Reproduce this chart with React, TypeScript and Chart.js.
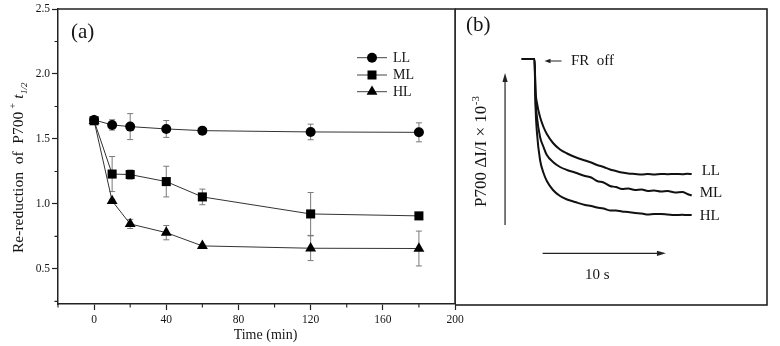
import React, { useEffect, useRef } from "react";
import { Chart, registerables } from "chart.js";
Chart.register(...registerables);

const SERIF = "'Liberation Serif', 'Times New Roman', serif";
const INK = "#151515";

// ---------- Panel (a) data ----------
const times = [0, 10, 20, 40, 60, 120, 180];
const seriesNames = ["LL", "ML", "HL"];
const llValues = [1.646, 1.608, 1.595, 1.577, 1.564, 1.554, 1.551];
const mlValues = [1.64, 1.23, 1.226, 1.172, 1.054, 0.923, 0.908];
const hlValues = [1.64, 1.023, 0.846, 0.779, 0.677, 0.659, 0.657];
const llErrors = [0.02, 0.04, 0.1, 0.065, 0.008, 0.06, 0.073];
const mlErrors = [0.02, 0.135, 0.035, 0.118, 0.06, 0.165, 0.01];
const hlErrors = [0.02, 0.012, 0.035, 0.055, 0.012, 0.095, 0.134];
const xTicks = [0, 40, 80, 120, 160, 200];
const yTicks = [0.5, 1.0, 1.5, 2.0, 2.5];
const xMinorTicks = [-20, 20, 60, 100, 140, 180];
const yMinorTicks = [0.25, 0.75, 1.25, 1.75, 2.25];

// ---------- Panel (b) data (time in s, signal in arbitrary units) ----------
const traceTimes = [-1.04, 0, 0.08, 0.2, 0.45, 0.73, 1.0, 1.5, 2.07, 2.64, 3.28, 4.1, 4.6, 5.07, 5.6, 6.12, 6.6, 7.1, 7.6, 8.15, 8.7, 9.2, 9.7, 10.26, 10.8, 11.4, 12.0, 12.4, 12.75];
const traceLL = [17.1, 17.1, 14.0, 12.7, 11.3, 10.3, 9.6, 8.7, 8.05, 7.65, 7.3, 6.95, 6.75, 6.5, 6.3, 6.05, 5.9, 5.75, 5.65, 5.6, 5.55, 5.6, 5.55, 5.6, 5.58, 5.6, 5.58, 5.62, 5.6];
const traceML = [17.1, 17.1, 13.2, 11.3, 9.3, 8.3, 7.5, 6.8, 6.3, 6.0, 5.75, 5.4, 5.25, 4.9, 4.75, 4.4, 4.3, 4.1, 4.15, 4.0, 4.05, 3.9, 3.95, 3.85, 3.9, 3.75, 3.8, 3.6, 3.45];
const traceHL = [17.1, 17.1, 12.4, 9.7, 7.0, 5.7, 4.9, 4.0, 3.4, 3.05, 2.8, 2.5, 2.4, 2.25, 2.15, 1.95, 1.95, 1.85, 1.8, 1.7, 1.65, 1.55, 1.6, 1.6, 1.55, 1.5, 1.52, 1.5, 1.5];
const scaleBarStart = 0.66;
const scaleBarSeconds = 10;

type Style = "circle" | "rect" | "triangle";

function drawMarker(ctx: CanvasRenderingContext2D, style: Style, x: number, y: number) {
  ctx.beginPath();
  if (style === "circle") {
    ctx.arc(x, y, 5, 0, Math.PI * 2);
  } else if (style === "rect") {
    ctx.rect(x - 4.5, y - 4.5, 9, 9);
  } else {
    const r = 6.3;
    ctx.moveTo(x, y - r);
    ctx.lineTo(x + r * Math.sin((2 * Math.PI) / 3), y - r * Math.cos((2 * Math.PI) / 3));
    ctx.lineTo(x + r * Math.sin((4 * Math.PI) / 3), y - r * Math.cos((4 * Math.PI) / 3));
    ctx.closePath();
  }
  ctx.fillStyle = "#000";
  ctx.fill();
}

function arrow(ctx: CanvasRenderingContext2D, x1: number, y1: number, x2: number, y2: number, head = 7, hw = 2.6) {
  const ang = Math.atan2(y2 - y1, x2 - x1);
  ctx.beginPath();
  ctx.moveTo(x1, y1);
  ctx.lineTo(x2 - Math.cos(ang) * head * 0.8, y2 - Math.sin(ang) * head * 0.8);
  ctx.stroke();
  ctx.beginPath();
  ctx.moveTo(x2, y2);
  ctx.lineTo(x2 - Math.cos(ang) * head - Math.sin(ang) * hw, y2 - Math.sin(ang) * head + Math.cos(ang) * hw);
  ctx.lineTo(x2 - Math.cos(ang) * head + Math.sin(ang) * hw, y2 - Math.sin(ang) * head - Math.cos(ang) * hw);
  ctx.closePath();
  ctx.fill();
}

export default function App() {
  const refA = useRef<HTMLCanvasElement>(null);
  const refB = useRef<HTMLCanvasElement>(null);

  useEffect(() => {
    const series = [
      { values: llValues, errors: llErrors, style: "circle" as Style, radius: 5 },
      { values: mlValues, errors: mlErrors, style: "rect" as Style, radius: 6.4 },
      { values: hlValues, errors: hlErrors, style: "triangle" as Style, radius: 6.3 },
    ];

    const panelAPlugin = {
      id: "panelA",
      beforeDatasetsDraw(chart: any) {
        const ctx = chart.ctx as CanvasRenderingContext2D;
        const ys = chart.scales.y;
        ctx.save();
        ctx.strokeStyle = "#7a7a7a";
        ctx.lineWidth = 1;
        series.forEach((s, di) => {
          const meta = chart.getDatasetMeta(di);
          meta.data.forEach((pt: any, i: number) => {
            const v = s.values[i];
            const e = s.errors[i];
            const yTop = ys.getPixelForValue(v + e);
            const yBot = ys.getPixelForValue(v - e);
            ctx.beginPath();
            ctx.moveTo(pt.x, yTop);
            ctx.lineTo(pt.x, yBot);
            ctx.moveTo(pt.x - 3, yTop);
            ctx.lineTo(pt.x + 3, yTop);
            ctx.moveTo(pt.x - 3, yBot);
            ctx.lineTo(pt.x + 3, yBot);
            ctx.stroke();
          });
        });
        ctx.restore();
      },
      afterDraw(chart: any) {
        const ctx = chart.ctx as CanvasRenderingContext2D;
        const { left, right, top, bottom } = chart.chartArea;
        const xs = chart.scales.x;
        const ys = chart.scales.y;
        ctx.save();
        // top & right frame
        ctx.strokeStyle = "#222";
        ctx.lineWidth = 1.5;
        ctx.beginPath();
        ctx.moveTo(left, top);
        ctx.lineTo(right, top);
        ctx.lineTo(right, bottom);
        ctx.stroke();
        // minor ticks
        ctx.lineWidth = 1.1;
        ctx.beginPath();
        xMinorTicks.forEach((v) => {
          const x = xs.getPixelForValue(v);
          ctx.moveTo(x, bottom);
          ctx.lineTo(x, bottom + 3.5);
        });
        yMinorTicks.forEach((v) => {
          const y = ys.getPixelForValue(v);
          ctx.moveTo(left, y);
          ctx.lineTo(left - 3.5, y);
        });
        ctx.stroke();

        ctx.fillStyle = INK;
        // panel letter
        ctx.font = `21px ${SERIF}`;
        ctx.textBaseline = "middle";
        ctx.textAlign = "left";
        ctx.fillText("(a)", left + 13, top + 23);

        // legend
        const rows = [top + 48.7, top + 66, top + 82.7];
        const styles: Style[] = ["circle", "rect", "triangle"];
        ctx.strokeStyle = "#444";
        ctx.lineWidth = 1;
        rows.forEach((y, i) => {
          ctx.beginPath();
          ctx.moveTo(right - 98, y);
          ctx.lineTo(right - 68, y);
          ctx.stroke();
          drawMarker(ctx, styles[i], right - 83, y);
          ctx.fillStyle = INK;
          ctx.font = `14px ${SERIF}`;
          ctx.textAlign = "left";
          ctx.textBaseline = "middle";
          ctx.fillText(seriesNames[i], right - 62, y + 0.5);
        });

        // x title
        ctx.font = `14px ${SERIF}`;
        ctx.textAlign = "center";
        ctx.textBaseline = "middle";
        ctx.fillText("Time (min)", (left + right) / 2 + 9, bottom + 31);

        // y title (rotated)
        ctx.translate(23, bottom - 51);
        ctx.rotate(-Math.PI / 2);
        ctx.textAlign = "left";
        ctx.textBaseline = "alphabetic";
        ctx.font = `15.5px ${SERIF}`;
        const main = "Re-reduction  of  P700";
        ctx.fillText(main, 0, 0);
        const w = ctx.measureText(main).width;
        ctx.font = `10px ${SERIF}`;
        ctx.fillText("+", w + 3, -7);
        ctx.font = `italic 15.5px ${SERIF}`;
        ctx.fillText("t", w + 13, 0);
        const tw = ctx.measureText("t").width;
        ctx.font = `italic 9px ${SERIF}`;
        ctx.fillText("1/2", w + 13 + tw + 0.5, 3.5);
        ctx.restore();
      },
    };

    const chartA = new Chart(refA.current!, {
      type: "line",
      data: {
        datasets: series.map((s, i) => ({
          label: seriesNames[i],
          data: times.map((t, j) => ({ x: t, y: s.values[j] })),
          borderColor: "#333",
          borderWidth: 1,
          pointStyle: s.style,
          pointRadius: s.radius,
          pointBackgroundColor: "#000",
          pointBorderColor: "#000",
          pointBorderWidth: 0,
          tension: 0,
          fill: false,
        })),
      },
      options: {
        responsive: false,
        animation: false,
        events: [],
        layout: { padding: { top: 9, right: 15, left: 0, bottom: 0 } },
        plugins: { legend: { display: false }, tooltip: { enabled: false } },
        scales: {
          x: {
            type: "linear",
            min: -20,
            max: 200,
            afterBuildTicks: (s: any) => {
              s.ticks = xTicks.map((v) => ({ value: v }));
            },
            afterFit: (s: any) => {
              s.height = 42;
            },
            grid: { drawOnChartArea: false, drawTicks: true, tickLength: 6, color: "#222", tickWidth: 1.2 },
            border: { display: true, color: "#222", width: 1.5 },
            ticks: {
              font: { family: SERIF, size: 11.5 },
              color: INK,
              padding: 3,
              maxRotation: 0,
              autoSkip: false,
              callback: (v: any) => String(v),
            },
          },
          y: {
            type: "linear",
            min: 0.23,
            max: 2.5,
            afterBuildTicks: (s: any) => {
              s.ticks = yTicks.map((v) => ({ value: v }));
            },
            afterFit: (s: any) => {
              s.width = 58;
            },
            grid: { drawOnChartArea: false, drawTicks: true, tickLength: 6, color: "#222", tickWidth: 1.2 },
            border: { display: true, color: "#222", width: 1.5 },
            ticks: {
              font: { family: SERIF, size: 11.5 },
              color: INK,
              padding: 2,
              autoSkip: false,
              callback: (v: any) => Number(v).toFixed(1),
            },
          },
        },
      },
      plugins: [panelAPlugin],
    } as any);

    const traces = [traceLL, traceML, traceHL];
    const labelOffsets = [
      [10, -3],
      [8, -2.5],
      [8, 1],
    ];

    const panelBPlugin = {
      id: "panelB",
      afterDraw(chart: any) {
        const ctx = chart.ctx as CanvasRenderingContext2D;
        const { left, right, top, bottom } = chart.chartArea;
        const xs = chart.scales.x;
        const ys = chart.scales.y;
        ctx.save();
        ctx.strokeStyle = "#222";
        ctx.lineWidth = 1.6;
        ctx.strokeRect(left, top, right - left, bottom - top);

        ctx.fillStyle = INK;
        ctx.font = `21px ${SERIF}`;
        ctx.textBaseline = "middle";
        ctx.textAlign = "left";
        ctx.fillText("(b)", left + 11, top + 16);

        // trace labels
        ctx.font = `15px ${SERIF}`;
        traces.forEach((tr, i) => {
          const meta = chart.getDatasetMeta(i);
          const last = meta.data[meta.data.length - 1];
          ctx.fillText(seriesNames[i], last.x + labelOffsets[i][0], last.y + labelOffsets[i][1]);
        });

        // FR off
        ctx.strokeStyle = "#222";
        ctx.fillStyle = "#222";
        ctx.lineWidth = 1;
        const frY = ys.getPixelForValue(traceLL[0]) + 2;
        const frX0 = xs.getPixelForValue(0);
        arrow(ctx, frX0 + 27, frY, frX0 + 10, frY, 6, 2.2);
        ctx.fillStyle = INK;
        ctx.font = `15px ${SERIF}`;
        ctx.textBaseline = "middle";
        ctx.fillText("FR  off", frX0 + 36.5, frY);

        // vertical arrow
        ctx.lineWidth = 1.2;
        ctx.fillStyle = "#222";
        const vx = xs.getPixelForValue(-2.39);
        arrow(ctx, vx, ys.getPixelForValue(0.5), vx, ys.getPixelForValue(15.7), 9, 2.6);

        // time scale bar
        const hy = ys.getPixelForValue(-2.33);
        arrow(ctx, xs.getPixelForValue(scaleBarStart), hy, xs.getPixelForValue(scaleBarStart + scaleBarSeconds), hy, 9, 2.6);
        ctx.fillStyle = INK;
        ctx.font = `15px ${SERIF}`;
        ctx.textAlign = "center";
        ctx.fillText(`${scaleBarSeconds} s`, xs.getPixelForValue(scaleBarStart + scaleBarSeconds / 2) - 7, ys.getPixelForValue(-4.5));

        // y label
        ctx.translate(left + 31, top + 198);
        ctx.rotate(-Math.PI / 2);
        ctx.textAlign = "left";
        ctx.textBaseline = "alphabetic";
        ctx.font = `17px ${SERIF}`;
        const main = "P700 ΔI/I × 10";
        ctx.fillText(main, 0, 0);
        const w = ctx.measureText(main).width;
        ctx.font = `11px ${SERIF}`;
        ctx.fillText("-3", w + 0.5, -7.5);
        ctx.restore();
      },
    };

    const chartB = new Chart(refB.current!, {
      type: "line",
      data: {
        datasets: traces.map((tr, i) => ({
          label: seriesNames[i],
          data: traceTimes.map((t, j) => ({ x: t, y: tr[j] })),
          borderColor: "#111",
          borderWidth: 2,
          pointRadius: 0,
          cubicInterpolationMode: "monotone",
          fill: false,
        })),
      },
      options: {
        responsive: false,
        animation: false,
        events: [],
        layout: { padding: { top: 9, right: 3, left: 0, bottom: 41 } },
        plugins: { legend: { display: false }, tooltip: { enabled: false } },
        scales: {
          x: { type: "linear", min: -6.45, max: 18.86, display: false },
          y: { type: "linear", min: -7.5, max: 22.1, display: false },
        },
      },
      plugins: [panelBPlugin],
    } as any);

    return () => {
      chartA.destroy();
      chartB.destroy();
    };
  }, []);

  return (
    <div style={{ position: "fixed", left: 0, top: 0, width: 780, height: 346, background: "#fff", overflow: "hidden" }}>
      <canvas ref={refA} width={470} height={346} style={{ position: "absolute", left: 0, top: 0, width: 470, height: 346 }} />
      <canvas ref={refB} width={315} height={346} style={{ position: "absolute", left: 455, top: 0, width: 315, height: 346 }} />
    </div>
  );
}
